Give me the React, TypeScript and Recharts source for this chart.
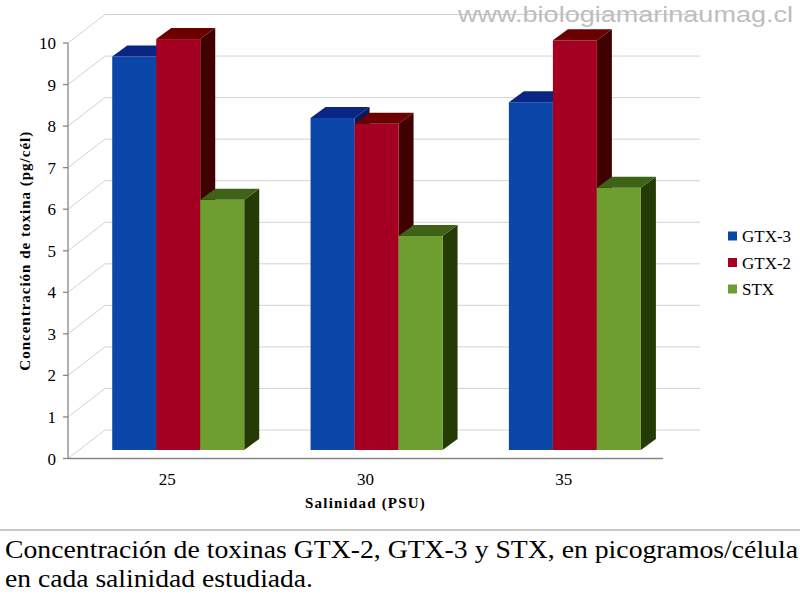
import React from 'react';
import { BarChart, Bar, XAxis, YAxis, CartesianGrid } from 'recharts';

const categories = ['25', '30', '35'];
const gtx3 = [9.47, 7.99, 8.37];
const gtx2 = [9.89, 7.85, 9.86];
const stx = [6.02, 5.15, 6.31];
const yTicks = [0, 1, 2, 3, 4, 5, 6, 7, 8, 9, 10];
const seriesNames = ['GTX-3', 'GTX-2', 'STX'];

const data = categories.map((c, i) => ({
  salinidad: c,
  'GTX-3': gtx3[i],
  'GTX-2': gtx2[i],
  STX: stx[i],
}));

const palette: Record<string, { front: string; top: string; side: string }> = {
  'GTX-3': { front: '#0A47A8', top: '#0B2585', side: '#021B5C' },
  'GTX-2': { front: '#A50021', top: '#6B0000', side: '#400000' },
  STX: { front: '#6F9E30', top: '#3E6317', side: '#243B05' },
};

const SERIF_STYLE = { fontFamily: "'Liberation Serif', 'Times New Roman', serif" };
const SHIFT_X = 11.5;
const SHIFT_Y = -8.5;
const DEPTH_X = 15;
const DEPTH_Y = -11;
const WALL_X = 37;
const WALL_Y = -28.5;
const GRID = '#D2D2D2';
const AXIS = '#868686';

const make3DShape = (colors: { front: string; top: string; side: string }) => (props: any) => {
  const { x, y, width, height } = props;
  if (width == null || height == null) return <g />;
  const x0 = x + SHIFT_X;
  const x1 = x0 + width;
  const top = y + SHIFT_Y;
  const bottom = y + height + SHIFT_Y;
  return (
    <g>
      <polygon
        points={`${x1},${top} ${x1 + DEPTH_X},${top + DEPTH_Y} ${x1 + DEPTH_X},${bottom + DEPTH_Y} ${x1},${bottom}`}
        fill={colors.side}
      />
      <rect x={x0} y={top} width={width} height={bottom - top} fill={colors.front} />
      <polygon
        points={`${x0},${top} ${x0 + DEPTH_X},${top + DEPTH_Y} ${x1 + DEPTH_X},${top + DEPTH_Y} ${x1},${top}`}
        fill={colors.top}
      />
    </g>
  );
};

const gridLine = (props: any) => {
  const { x1, y1, x2, y2 } = props;
  return (
    <g key={`grid-${y1}`}>
      <line x1={x1} y1={y1} x2={x1 + WALL_X} y2={y1 + WALL_Y} stroke={GRID} strokeWidth={1} />
      <line x1={x1 + WALL_X} y1={y1 + WALL_Y} x2={x2 + WALL_X} y2={y2 + WALL_Y} stroke={GRID} strokeWidth={1} />
    </g>
  );
};

const XTick = (props: any) => {
  const { x, y, payload } = props;
  return (
    <text x={x} y={y + 18} textAnchor="middle" style={SERIF_STYLE} fontSize={17} fill="#000">
      {payload.value}
    </text>
  );
};

const YTick = (props: any) => {
  const { x, y, payload } = props;
  return (
    <text x={x + 1} y={y + 6} textAnchor="end" style={SERIF_STYLE} fontSize={17} fill="#000">
      {payload.value}
    </text>
  );
};

const YTitle = (props: any) => {
  const vb = props.viewBox || { y: 43, height: 414 };
  const cy = vb.y + vb.height / 2;
  return (
    <text
      x={30}
      y={cy}
      transform={`rotate(-90, 30, ${cy})`}
      textAnchor="middle"
      style={SERIF_STYLE}
      fontWeight="bold"
      fontSize={15}
      letterSpacing={1}
      fill="#000"
    >
      Concentración de toxina (pg/cél)
    </text>
  );
};

const XTitle = (props: any) => {
  const vb = props.viewBox || { x: 68, width: 595 };
  const cx = vb.x + vb.width / 2;
  return (
    <text
      x={cx}
      y={508}
      textAnchor="middle"
      style={SERIF_STYLE}
      fontWeight="bold"
      fontSize={15}
      letterSpacing={1.2}
      fill="#000"
    >
      Salinidad (PSU)
    </text>
  );
};

export default function App() {
  return (
    <div style={{ position: 'absolute', left: 0, top: 0, width: 800, height: 600, background: '#fff' }}>
      <BarChart
        width={800}
        height={600}
        data={data}
        margin={{ top: 43, right: 137, left: 8, bottom: 111.5 }}
        barCategoryGap="16.5%"
        barGap={0}
      >
        <CartesianGrid vertical={false} horizontal={gridLine} />
        <XAxis
          dataKey="salinidad"
          height={30}
          tickLine={false}
          axisLine={{ stroke: AXIS, strokeWidth: 1.3 }}
          tick={XTick}
          label={XTitle}
        />
        <YAxis
          width={60}
          domain={[0, 10]}
          ticks={yTicks}
          interval={0}
          tickSize={5}
          tickMargin={8}
          axisLine={{ stroke: AXIS, strokeWidth: 1.3 }}
          tickLine={{ stroke: AXIS, strokeWidth: 1.3 }}
          tick={YTick}
          label={YTitle}
        />
        {seriesNames.map((s) => (
          <Bar key={s} dataKey={s} isAnimationActive={false} shape={make3DShape(palette[s])} />
        ))}
      </BarChart>
      <svg
        width={800}
        height={600}
        style={{ position: 'absolute', left: 0, top: 0, pointerEvents: 'none' }}
      >
        <text
          x={458}
          y={22}
          style={{ fontFamily: "'Liberation Sans', Arial, sans-serif" }}
          fontSize={22}
          fill="#BDBDBD"
          textLength={335}
          lengthAdjust="spacingAndGlyphs"
        >
          www.biologiamarinaumag.cl
        </text>
        {seriesNames.map((s, i) => (
          <g key={s}>
            <rect x={728} y={231.5 + i * 26.5} width={9} height={9} fill={palette[s].front} />
            <text x={742} y={242 + i * 26.5} style={SERIF_STYLE} fontSize={17} fill="#000">
              {s}
            </text>
          </g>
        ))}
        <line x1={0} y1={530} x2={800} y2={530} stroke="#C8C8C8" strokeWidth={2} />
        <text
          x={5}
          y={558}
          style={SERIF_STYLE}
          fontSize={26}
          fill="#000"
          textLength={793}
          lengthAdjust="spacingAndGlyphs"
        >
          Concentración de toxinas GTX-2, GTX-3 y STX, en picogramos/célula
        </text>
        <text
          x={5}
          y={587}
          style={SERIF_STYLE}
          fontSize={26}
          fill="#000"
          textLength={308}
          lengthAdjust="spacingAndGlyphs"
        >
          en cada salinidad estudiada.
        </text>
      </svg>
    </div>
  );
}
